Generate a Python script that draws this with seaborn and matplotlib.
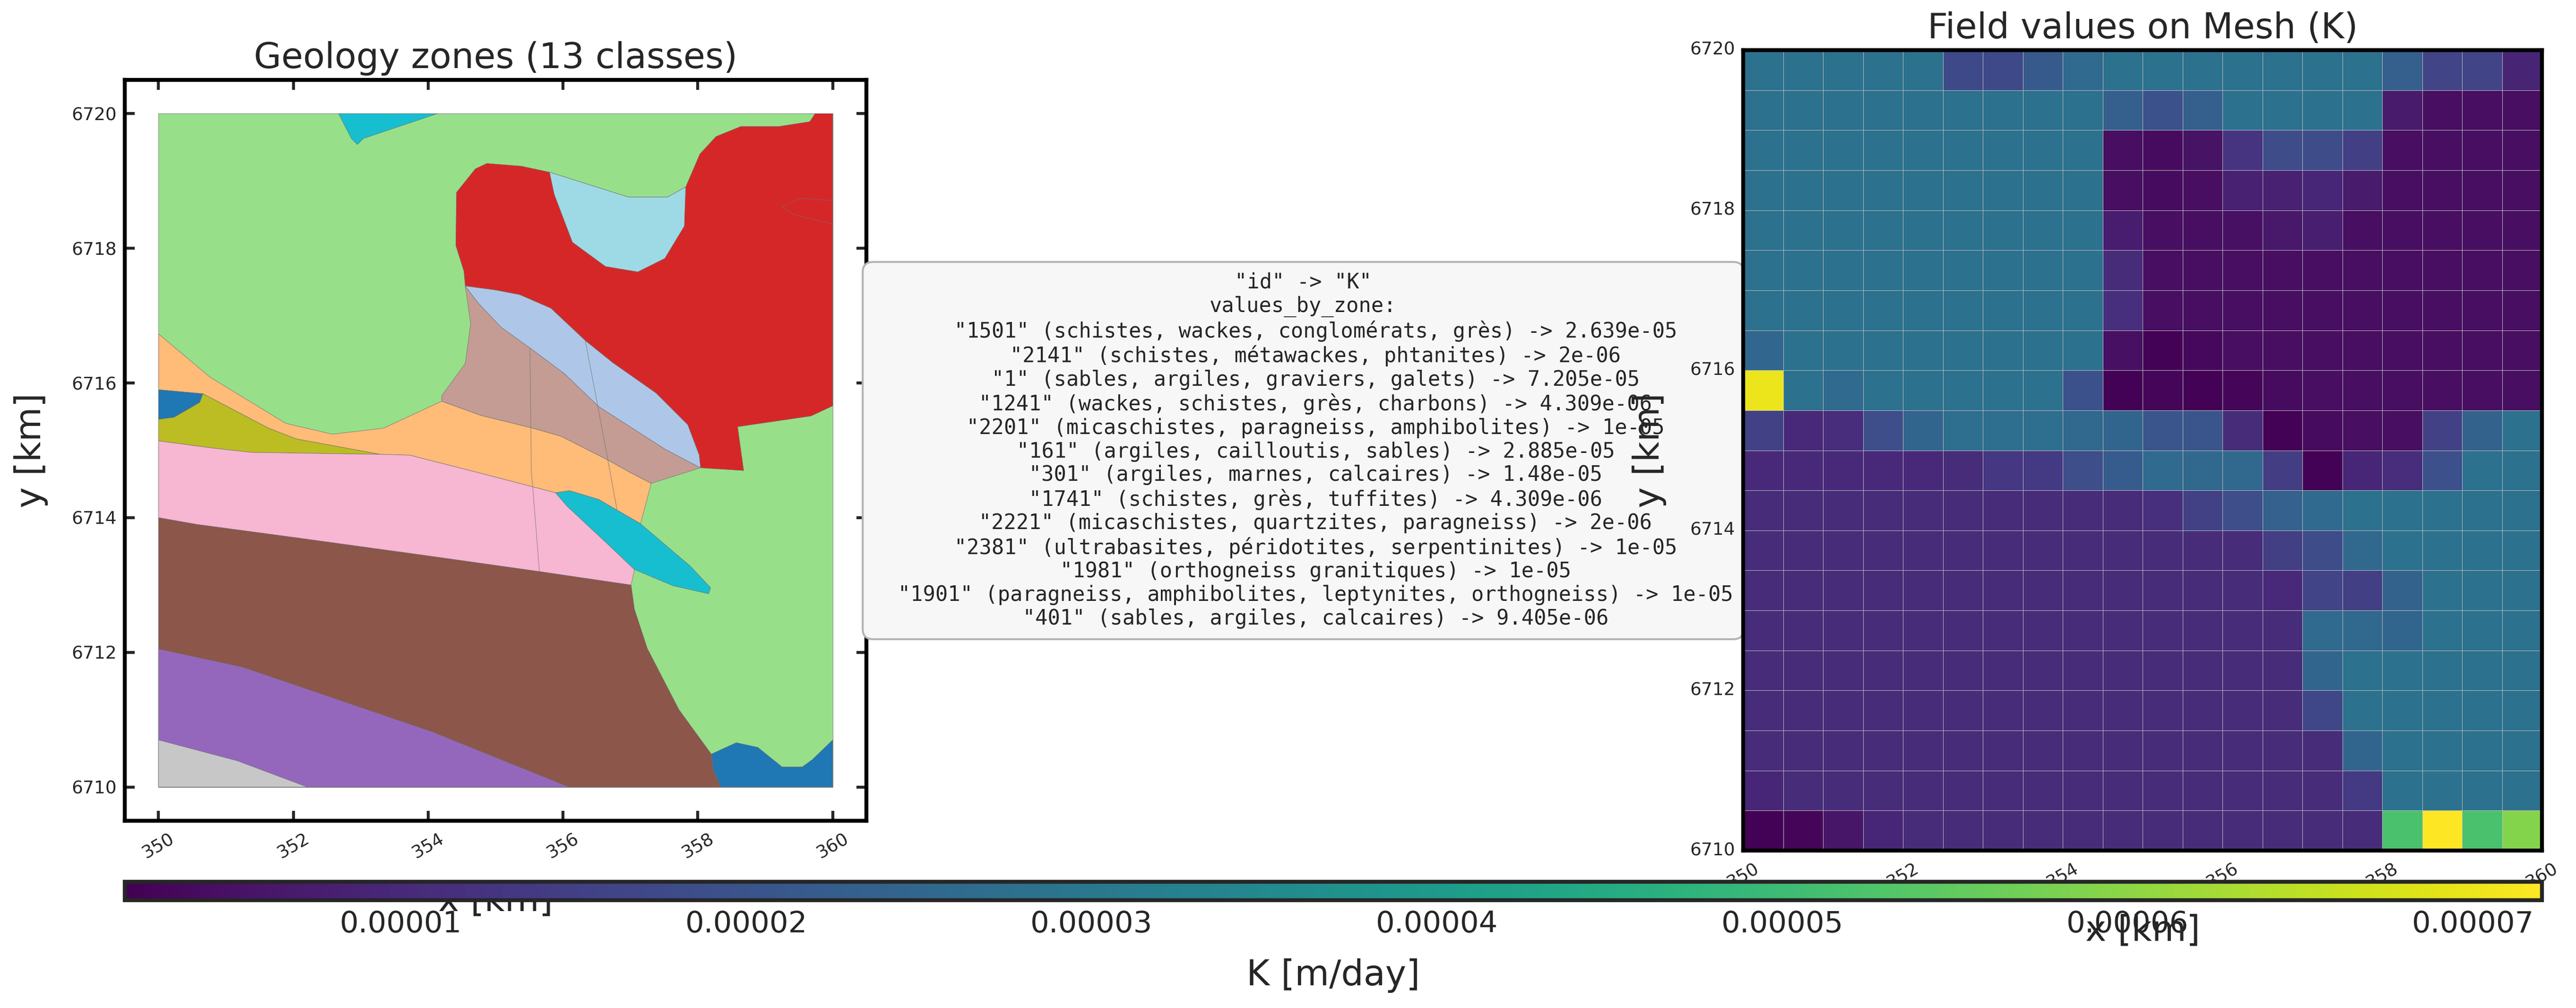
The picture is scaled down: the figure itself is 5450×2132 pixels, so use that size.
import numpy as np
import matplotlib
matplotlib.use('Agg')
import matplotlib.pyplot as plt
from matplotlib.cm import ScalarMappable
from matplotlib.colors import Normalize
import seaborn as sns

# ---- geology polygons, (x km, y km) ----
bg_green = [(350, 6720), (360, 6720), (360, 6710), (350, 6710)]
cyan_top = [(352.67, 6720), (352.86, 6719.63), (352.95, 6719.54), (353.04, 6719.63), (354.14, 6720)]
red_zone = [(359.74, 6720), (360, 6720), (360, 6715.66), (359.68, 6715.51), (358.59, 6715.35), (358.68, 6714.70),
            (358.04, 6714.74), (358.02, 6714.93), (357.85, 6715.38), (357.38, 6715.85), (356.74, 6716.30),
            (356.33, 6716.63), (355.82, 6717.11), (355.36, 6717.31), (355.0, 6717.38), (354.55, 6717.44),
            (354.53, 6717.66), (354.41, 6718.04), (354.42, 6718.83), (354.70, 6719.18), (354.87, 6719.26),
            (355.38, 6719.22), (355.80, 6719.13), (356.97, 6718.76), (357.55, 6718.76), (357.82, 6718.91),
            (358.03, 6719.40), (358.27, 6719.66), (358.64, 6719.81), (359.21, 6719.81), (359.66, 6719.88)]
red_inner = [(360, 6718.71), (359.51, 6718.74), (359.25, 6718.62), (359.42, 6718.50), (360, 6718.36)]
pale_cyan = [(355.80, 6719.13), (356.97, 6718.76), (357.55, 6718.76), (357.82, 6718.91), (357.80, 6718.33),
             (357.51, 6717.85), (357.11, 6717.65), (356.63, 6717.73), (356.14, 6718.09), (355.87, 6718.80)]
orange_zone = [(350, 6716.73), (350.76, 6716.09), (351.89, 6715.40), (352.58, 6715.24), (353.34, 6715.33),
               (354.20, 6715.73), (354.78, 6715.52), (355.55, 6715.33), (355.97, 6715.21), (356.66, 6714.86),
               (357.0, 6714.67), (357.31, 6714.51), (357.15, 6713.91), (356.53, 6714.27), (356.10, 6714.40),
               (355.89, 6714.37), (354.70, 6714.68), (353.72, 6714.93), (353.29, 6714.94), (352.04, 6715.17),
               (351.63, 6715.33), (350.66, 6715.84), (350, 6715.90)]
rose_zone = [(354.55, 6717.44), (354.74, 6717.19), (355.08, 6716.83), (355.51, 6716.52), (356.02, 6716.14),
             (356.53, 6715.65), (357.51, 6715.02), (358.04, 6714.74), (357.31, 6714.51), (357.0, 6714.67),
             (356.66, 6714.86), (355.97, 6715.21), (355.55, 6715.33), (354.78, 6715.52), (354.20, 6715.73),
             (354.20, 6715.81), (354.55, 6716.29), (354.63, 6716.88)]
sky_zone = [(354.55, 6717.44), (355.0, 6717.38), (355.36, 6717.31), (355.82, 6717.11), (356.33, 6716.63),
            (356.74, 6716.30), (357.38, 6715.85), (357.85, 6715.38), (358.02, 6714.93), (358.04, 6714.74),
            (357.51, 6715.02), (356.53, 6715.65), (356.02, 6716.14), (355.51, 6716.52), (355.08, 6716.83),
            (354.74, 6717.19)]
blue_small = [(350, 6715.90), (350.66, 6715.84), (350.61, 6715.71), (350.23, 6715.49), (350, 6715.46)]
olive_zone = [(350, 6715.46), (350.23, 6715.49), (350.61, 6715.71), (350.66, 6715.84), (351.63, 6715.33),
              (352.04, 6715.17), (353.29, 6714.94), (351.38, 6714.97), (350.83, 6715.03), (350, 6715.14)]
pink_zone = [(350, 6715.14), (350.83, 6715.03), (351.38, 6714.97), (353.29, 6714.94), (353.72, 6714.93),
             (354.70, 6714.68), (355.89, 6714.37), (357.06, 6713.23), (357.01, 6713.0), (355.65, 6713.20),
             (354.02, 6713.43), (352.06, 6713.70), (350.57, 6713.90), (350, 6714.0)]
cyan_lens = [(355.89, 6714.37), (356.10, 6714.40), (356.53, 6714.27), (357.15, 6713.91), (357.89, 6713.28),
             (358.19, 6712.96), (358.16, 6712.87), (357.63, 6712.99), (357.06, 6713.23), (356.66, 6713.61),
             (356.06, 6714.17)]
brown_zone = [(350, 6714.0), (350.57, 6713.90), (352.06, 6713.70), (354.02, 6713.43), (355.65, 6713.20),
              (357.01, 6713.0), (357.06, 6712.64), (357.25, 6712.06), (357.72, 6711.15), (358.20, 6710.49),
              (358.23, 6710.26), (358.34, 6710), (350, 6710)]
purple_zone = [(350, 6712.05), (351.25, 6711.78), (354.06, 6710.82), (356.09, 6710), (350, 6710)]
grey_zone = [(350, 6710.70), (351.17, 6710.39), (352.21, 6710), (350, 6710)]
blue_corner = [(358.20, 6710.49), (358.57, 6710.66), (358.89, 6710.59), (359.25, 6710.30), (359.55, 6710.30),
               (359.70, 6710.41), (360, 6710.70), (360, 6710), (358.34, 6710), (358.23, 6710.26)]

# inner boundaries between pieces of the same zone
fault_a = [(355.51, 6716.52), (355.53, 6714.67), (355.55, 6714.47), (355.65, 6713.20)]
fault_b = [(356.33, 6716.63), (356.50, 6715.74), (356.70, 6714.67), (356.80, 6714.12)]

zones = [
    (bg_green, '#98df8a'), (cyan_top, '#17becf'), (red_zone, '#d62728'), (red_inner, '#d62728'),
    (pale_cyan, '#9edae5'), (orange_zone, '#ffbb78'), (rose_zone, '#c49c94'), (sky_zone, '#aec7e8'),
    (blue_small, '#1f77b4'), (olive_zone, '#bcbd22'), (pink_zone, '#f7b6d2'), (brown_zone, '#8c564b'),
    (purple_zone, '#9467bd'), (grey_zone, '#c7c7c7'), (blue_corner, '#1f77b4'), (cyan_lens, '#17becf'),
]

# ---- K on the mesh, in 1e-5 m/day, first row is the top of the map ----
k_rows = [
    [2.8, 2.8, 2.8, 2.8, 2.8, 1.75, 1.75, 2.15, 2.6, 2.8, 2.8, 2.8, 2.8, 2.8, 2.8, 2.8, 2.3, 1.6, 1.6, 0.9],
    [2.8, 2.8, 2.8, 2.8, 2.8, 2.8, 2.8, 2.8, 2.8, 2.3, 1.95, 2.3, 2.8, 2.8, 2.8, 2.8, 0.7, 0.45, 0.45, 0.45],
    [2.8, 2.8, 2.8, 2.8, 2.8, 2.8, 2.8, 2.8, 2.8, 0.45, 0.4, 0.55, 1.25, 1.8, 1.8, 1.5, 0.45, 0.45, 0.45, 0.45],
    [2.8, 2.8, 2.8, 2.8, 2.8, 2.8, 2.8, 2.8, 2.8, 0.45, 0.4, 0.45, 0.85, 0.85, 0.95, 0.7, 0.45, 0.45, 0.45, 0.45],
    [2.8, 2.8, 2.8, 2.8, 2.8, 2.8, 2.8, 2.8, 2.8, 0.75, 0.45, 0.45, 0.5, 0.65, 0.8, 0.45, 0.45, 0.45, 0.45, 0.45],
    [2.8, 2.8, 2.8, 2.8, 2.8, 2.8, 2.8, 2.8, 2.8, 1.05, 0.45, 0.45, 0.45, 0.45, 0.45, 0.45, 0.45, 0.45, 0.45, 0.45],
    [2.8, 2.8, 2.8, 2.8, 2.8, 2.8, 2.8, 2.8, 2.8, 1.15, 0.45, 0.45, 0.45, 0.45, 0.45, 0.45, 0.45, 0.45, 0.45, 0.45],
    [2.5, 2.8, 2.8, 2.8, 2.8, 2.8, 2.8, 2.8, 2.8, 0.5, 0.25, 0.35, 0.45, 0.45, 0.45, 0.45, 0.45, 0.45, 0.45, 0.45],
    [7.0, 2.8, 2.6, 2.8, 2.8, 2.8, 2.8, 2.8, 1.95, 0.25, 0.3, 0.25, 0.3, 0.4, 0.45, 0.45, 0.45, 0.45, 0.45, 0.45],
    [1.55, 1.0, 1.1, 1.85, 2.45, 2.7, 2.7, 2.7, 2.55, 2.45, 2.05, 2.05, 1.05, 0.25, 0.4, 0.45, 0.45, 1.55, 2.4, 2.8],
    [1.0, 1.0, 1.0, 1.0, 1.0, 1.05, 1.3, 1.35, 1.85, 2.2, 2.6, 2.55, 2.55, 1.45, 0.25, 0.95, 1.1, 1.9, 2.8, 2.8],
    [1.05, 1.05, 1.05, 1.05, 1.05, 1.05, 1.05, 1.05, 1.05, 1.05, 1.15, 1.55, 1.85, 2.35, 2.6, 2.8, 2.8, 2.8, 2.8, 2.8],
    [1.05, 1.05, 1.05, 1.05, 1.05, 1.05, 1.05, 1.05, 1.05, 1.05, 1.05, 1.05, 1.05, 1.5, 1.8, 2.55, 2.8, 2.8, 2.8, 2.8],
    [1.05, 1.05, 1.05, 1.05, 1.05, 1.05, 1.05, 1.05, 1.05, 1.05, 1.05, 1.05, 1.05, 1.0, 1.6, 1.5, 2.4, 2.8, 2.8, 2.8],
    [1.05, 1.05, 1.05, 1.05, 1.05, 1.05, 1.05, 1.05, 1.05, 1.05, 1.05, 1.05, 1.05, 1.05, 2.6, 2.55, 2.45, 2.8, 2.8, 2.8],
    [1.05, 1.05, 1.05, 1.05, 1.05, 1.05, 1.05, 1.05, 1.05, 1.05, 1.05, 1.05, 1.05, 1.05, 2.45, 2.8, 2.8, 2.8, 2.8, 2.8],
    [1.05, 1.05, 1.05, 1.05, 1.05, 1.05, 1.05, 1.05, 1.05, 1.05, 1.05, 1.05, 1.05, 1.05, 1.7, 2.8, 2.8, 2.8, 2.8, 2.8],
    [1.05, 1.05, 1.05, 1.05, 1.05, 1.05, 1.05, 1.05, 1.05, 1.05, 1.05, 1.05, 1.05, 1.05, 1.05, 2.45, 2.8, 2.8, 2.8, 2.8],
    [0.95, 1.05, 1.05, 1.05, 1.05, 1.05, 1.05, 1.05, 1.05, 1.05, 1.05, 1.05, 1.05, 1.05, 1.05, 1.4, 2.8, 2.85, 2.8, 2.8],
    [0.25, 0.3, 0.6, 0.95, 1.05, 1.05, 1.05, 1.05, 1.05, 1.05, 1.05, 1.05, 1.05, 1.05, 1.05, 1.05, 5.2, 7.2, 5.2, 5.9],
]
k_min = 2e-6
k_max = 7.2e-5

x_ticks = [350, 352, 354, 356, 358, 360]
y_ticks = [6710, 6712, 6714, 6716, 6718, 6720]
cbar_ticks = [1e-5, 2e-5, 3e-5, 4e-5, 5e-5, 6e-5, 7e-5]
cbar_labels = ['0.00001', '0.00002', '0.00003', '0.00004', '0.00005', '0.00006', '0.00007']

info_lines = [
    '"id" -> "K"',
    'values_by_zone:',
    '  "1501" (schistes, wackes, conglomérats, grès) -> 2.639e-05',
    '  "2141" (schistes, métawackes, phtanites) -> 2e-06',
    '  "1" (sables, argiles, graviers, galets) -> 7.205e-05',
    '  "1241" (wackes, schistes, grès, charbons) -> 4.309e-06',
    '  "2201" (micaschistes, paragneiss, amphibolites) -> 1e-05',
    '  "161" (argiles, cailloutis, sables) -> 2.885e-05',
    '  "301" (argiles, marnes, calcaires) -> 1.48e-05',
    '  "1741" (schistes, grès, tuffites) -> 4.309e-06',
    '  "2221" (micaschistes, quartzites, paragneiss) -> 2e-06',
    '  "2381" (ultrabasites, péridotites, serpentinites) -> 1e-05',
    '  "1981" (orthogneiss granitiques) -> 1e-05',
    '  "1901" (paragneiss, amphibolites, leptynites, orthogneiss) -> 1e-05',
    '  "401" (sables, argiles, calcaires) -> 9.405e-06',
]

sns.set_style('white')
plt.rcParams['font.family'] = ['DejaVu Sans']

W, H = 5450, 2132
fig = plt.figure(figsize=(W / 300, H / 300), dpi=300)


def px_axes(left, top, right, bottom):
    return fig.add_axes([left / W, 1 - bottom / H, (right - left) / W, (bottom - top) / H])


# left panel
ax_geo = px_axes(264, 169, 1833, 1736)
for poly, col in zones:
    xs, ys = zip(*poly)
    ax_geo.fill(xs, ys, facecolor=col, edgecolor='#707070', linewidth=0.2)
for line in (fault_a, fault_b):
    xs, ys = zip(*line)
    ax_geo.plot(xs, ys, color='#707070', linewidth=0.2)
ax_geo.set_xlim(349.5, 360.5)
ax_geo.set_ylim(6709.5, 6720.5)
ax_geo.set_xticks(x_ticks)
ax_geo.set_yticks(y_ticks)
ax_geo.tick_params(direction='in', length=5, width=1.5, top=True, right=True, labelsize=9, pad=4,
                   left=True, bottom=True)
ax_geo.tick_params(axis='x', labelrotation=30, pad=5)
ax_geo.set_title('Geology zones (13 classes)', fontsize=18)
ax_geo.set_xlabel('x [km]', fontsize=18, labelpad=11)
ax_geo.set_ylabel('y [km]', fontsize=18, labelpad=12)
for sp in ax_geo.spines.values():
    sp.set_linewidth(2)
    sp.set_color('black')

# values box
fig.text(2757 / W, 1 - 953 / H, '\n'.join(info_lines), ha='center', va='center', multialignment='center',
         family='DejaVu Sans Mono', fontsize=10.5, zorder=3,
         bbox=dict(boxstyle='round,pad=0.5', facecolor='#f7f7f7', edgecolor='#b3b3b3', linewidth=1))

# right panel
ax_mesh = px_axes(3688, 106, 5378, 1799)
ax_mesh.set_zorder(5)
sns.heatmap(np.array(k_rows) * 1e-5, ax=ax_mesh, cmap='viridis', vmin=k_min, vmax=k_max, cbar=False,
            linewidths=0.22, linecolor='#c0c0c0')
ax_mesh.set_xticks(np.linspace(0, 20, len(x_ticks)))
ax_mesh.set_xticklabels(x_ticks, rotation=30)
ax_mesh.set_yticks(np.linspace(20, 0, len(y_ticks)))
ax_mesh.set_yticklabels(y_ticks, rotation=0)
ax_mesh.tick_params(length=0, labelsize=9, pad=4)
ax_mesh.tick_params(axis='x', pad=5)
ax_mesh.set_title('Field values on Mesh (K)', fontsize=18)
ax_mesh.set_xlabel('x [km]', fontsize=18, labelpad=11)
ax_mesh.set_ylabel('y [km]', fontsize=18, labelpad=12)
for sp in ax_mesh.spines.values():
    sp.set_visible(True)
    sp.set_linewidth(2)
    sp.set_color('black')

# shared colorbar
cax = px_axes(264, 1865, 5378, 1904)
cax.set_zorder(6)
cb = fig.colorbar(ScalarMappable(norm=Normalize(k_min, k_max), cmap='viridis'), cax=cax, orientation='horizontal')
cb.set_ticks(cbar_ticks)
cb.set_ticklabels(cbar_labels)
cb.ax.tick_params(length=0, labelsize=15, pad=5)
cb.outline.set_linewidth(2)
cb.set_label('K [m/day]', fontsize=18, labelpad=10)

fig.savefig('out.png', dpi=300)
